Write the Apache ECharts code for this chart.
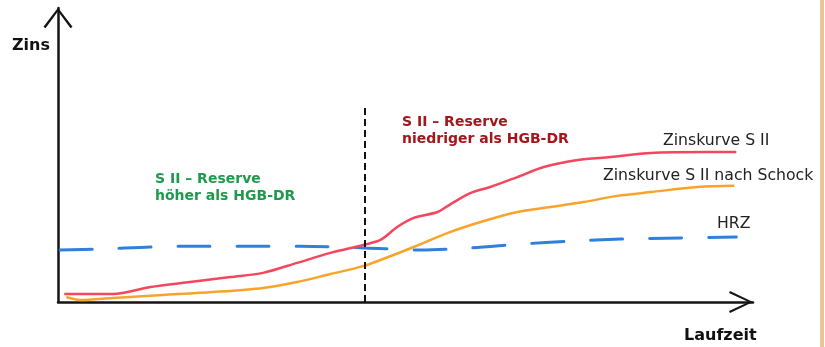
<!DOCTYPE html>
<html>
<head>
<meta charset="utf-8">
<script src="https://cdn.jsdelivr.net/npm/echarts@6/dist/echarts.min.js"></script>
<style>
  html, body { margin: 0; padding: 0; background: #ffffff; }
  #chart { width: 825px; height: 347px; }
</style>
</head>
<body>
<div id="chart"></div>
<script>
// Laufzeit (x) and Zins (y) in abstract units 0..100
const laufzeitS2 = [0.9, 7.9, 13.3, 19.0, 24.8, 29.5, 34.4, 39.2, 43.9, 46.4, 48.8, 51.2, 54.6, 56.5, 59.4, 62.2, 66.1, 69.9, 74.8, 79.5, 85.3, 93.5, 97.6];
const zinsS2     = [2.7, 2.7, 5.1, 6.8, 8.5, 9.9, 13.3, 16.7, 19.4, 21.1, 25.5, 28.6, 30.6, 33.3, 37.1, 39.1, 42.5, 45.9, 48.3, 49.3, 50.7, 51.0, 51.0];

const laufzeitSchock = [1.2, 3.2, 7.9, 15.1, 22.3, 29.5, 34.4, 39.2, 43.9, 46.4, 51.2, 56.1, 60.8, 66.1, 70.9, 75.6, 80.5, 85.3, 92.1, 97.3];
const zinsSchock     = [1.7, 0.7, 1.4, 2.4, 3.4, 4.8, 6.8, 9.5, 12.2, 14.3, 18.7, 23.5, 27.2, 30.6, 32.3, 34.0, 36.1, 37.4, 39.1, 39.5];

const laufzeitHRZ = [0.3, 6.1, 13.3, 20.5, 27.7, 34.9, 44.2, 52.2, 59.4, 66.6, 73.8, 81.0, 89.6, 97.6];
const zinsHRZ     = [17.7, 18.0, 18.7, 19.0, 19.0, 19.0, 18.4, 17.7, 18.4, 19.7, 20.7, 21.4, 21.8, 22.1];

const grenzeLaufzeit = 44.2;   // dashed vertical divider
const grenzeZinsTop = 67;

const seriesNames = ['Zinskurve S II', 'Zinskurve S II nach Schock', 'HRZ'];
const axisNames = ['Laufzeit', 'Zins'];
const textLinks = ['S II – Reserve', 'höher als HGB-DR'];
const textRechts = ['S II – Reserve', 'niedriger als HGB-DR'];

const zip = (xs, ys) => xs.map((x, i) => [x, ys[i]]);

const chevronY = 'path://M0,19 L14.5,0 L29,19 L27,20.4 L14.5,3.4 L2,20.4 Z';
const chevronX = 'path://M0,23 L11,0 L22,23 L20,24 L11,4.4 L2,24 Z';
const FONT = '"DejaVu Sans", Verdana, sans-serif';

const chart = echarts.init(document.getElementById('chart'), null, { renderer: 'canvas' });

chart.setOption({
  animation: false,
  backgroundColor: '#ffffff',
  grid: { left: 58, right: 72, top: 8, bottom: 45, containLabel: false },
  xAxis: {
    type: 'value', min: 0, max: 100,
    axisLine: { show: true, onZero: false, symbol: ['none', chevronX], symbolSize: [22, 24], symbolOffset: [0, -12],
      lineStyle: { color: '#151515', width: 2.5 } },
    axisTick: { show: false }, axisLabel: { show: false }, splitLine: { show: false }
  },
  yAxis: {
    type: 'value', min: 0, max: 100,
    axisLine: { show: true, onZero: false, symbol: ['none', chevronY], symbolSize: [29, 20.4], symbolOffset: [0, -10],
      lineStyle: { color: '#151515', width: 2.5 } },
    axisTick: { show: false }, axisLabel: { show: false }, splitLine: { show: false }
  },
  series: [
    {
      name: seriesNames[2], type: 'line', data: zip(laufzeitHRZ, zinsHRZ),
      showSymbol: false, smooth: 0.3,
      lineStyle: { color: '#2F80DC', width: 3, type: [32, 27], cap: 'round' },
      z: 2
    },
    {
      name: seriesNames[1], type: 'line', data: zip(laufzeitSchock, zinsSchock),
      showSymbol: false, smooth: 0.3,
      lineStyle: { color: '#FAA32A', width: 2.5 },
      z: 3
    },
    {
      name: seriesNames[0], type: 'line', data: zip(laufzeitS2, zinsS2),
      showSymbol: false, smooth: 0.3,
      lineStyle: { color: '#F4465C', width: 2.5 },
      z: 4,
      markLine: {
        silent: true, symbol: ['none', 'none'], label: { show: false },
        lineStyle: { color: '#111', width: 2, type: [7, 4] },
        data: [[{ coord: [grenzeLaufzeit, 0] }, { coord: [grenzeLaufzeit, grenzeZinsTop] }]]
      }
    }
  ],
  graphic: [
    { type: 'rect', right: 1, top: 0, shape: { width: 4, height: 347 }, style: { fill: '#E8C794' }, silent: true },
    { type: 'text', left: 12, top: 38, style: { text: axisNames[1], font: 'bold 16px ' + FONT, fill: '#111' } },
    { type: 'text', left: 684, top: 328, style: { text: axisNames[0], font: 'bold 16px ' + FONT, fill: '#111' } },
    { type: 'text', left: 155, top: 171, style: { text: textLinks.join('\n'), font: 'bold 14px ' + FONT, lineHeight: 17, fill: '#1E9A4C' } },
    { type: 'text', left: 402, top: 114, style: { text: textRechts.join('\n'), font: 'bold 14px ' + FONT, lineHeight: 17, fill: '#A4161A' } },
    { type: 'text', left: 663, top: 133, style: { text: seriesNames[0], font: '15.7px ' + FONT, fill: '#222' } },
    { type: 'text', left: 603, top: 168, style: { text: seriesNames[1], font: '15.7px ' + FONT, fill: '#222' } },
    { type: 'text', left: 717, top: 216, style: { text: seriesNames[2], font: '15.7px ' + FONT, fill: '#222' } }
  ]
});
</script>
</body>
</html>
